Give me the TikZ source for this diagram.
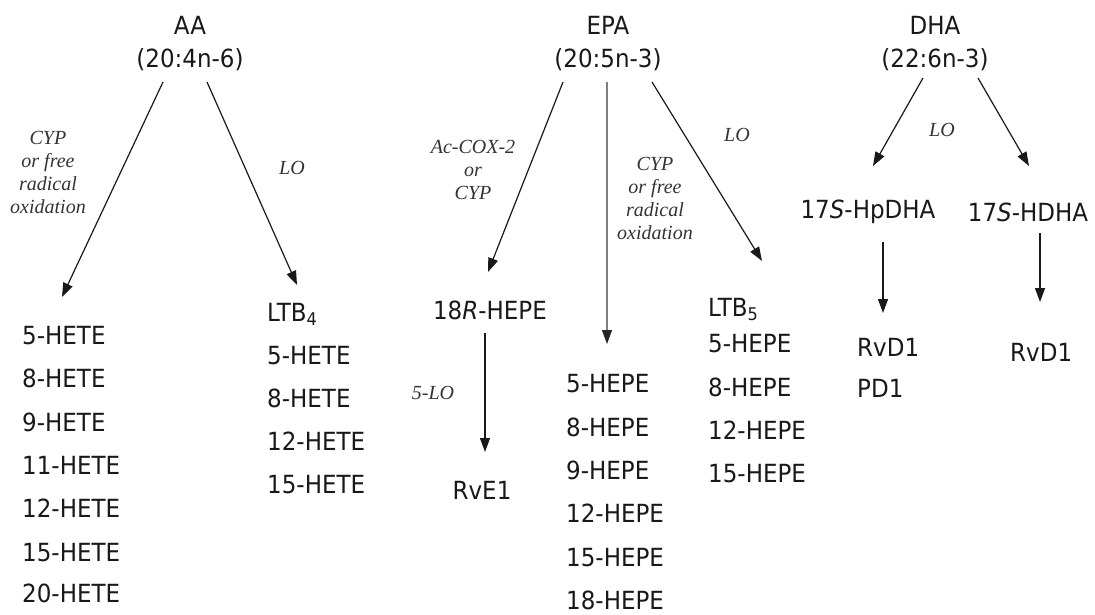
\documentclass[tikz,border=0pt]{standalone}
\usepackage{fontspec}
\setmainfont{DejaVu Sans}[FakeStretch=0.92]
\newfontfamily\lblfont{Liberation Serif}
\usetikzlibrary{arrows.meta}
\begin{document}
\begin{tikzpicture}[x=1pt,y=-1pt,
  txt/.style={font=\fontsize{25}{30}\selectfont, inner sep=0pt, text=black!90},
  item/.style={txt, anchor=base west},
  lab/.style={font=\lblfont\itshape\fontsize{20}{23}\selectfont, align=center, inner sep=0pt, text=black!80},
  arr/.style={-{Triangle[length=14pt,width=10pt]}, line width=1.2pt, draw=black!90},
  garr/.style={-{Triangle[length=14pt,width=10pt,color=black!85]}, line width=1.2pt, draw=black!50}]
\useasboundingbox (0,0) rectangle (1095,615);

% ---------- AA ----------
\node[txt] (aa) at (190,25) {AA};
\node[txt] (aa2) at (190,60) {(20:4n-6)};
\coordinate (aaLs) at (163,82);
\coordinate (aaLe) at (62,297);
\coordinate (aaRs) at (207,82);
\coordinate (aaRe) at (297,285);
\draw[arr] (aaLs) -- (aaLe);
\draw[arr] (aaRs) -- (aaRe);
\node[lab] (laa1) at (48,172) {CYP\\or free\\radical\\oxidation};
\node[lab] (laa2) at (292,168) {LO};

\node[item] (h5)  at (22,344) {5-HETE};
\node[item] (h8)  at (22,387) {8-HETE};
\node[item] (h9)  at (22,431) {9-HETE};
\node[item] (h11) at (22,474) {11-HETE};
\node[item] (h12) at (22,517) {12-HETE};
\node[item] (h15) at (22,561) {15-HETE};
\node[item] (h20) at (22,602) {20-HETE};

\node[item] (ltb4) at (267,321) {LTB\textsubscript{4}};
\node[item] (g5)  at (267,364) {5-HETE};
\node[item] (g8)  at (267,407) {8-HETE};
\node[item] (g12) at (267,450) {12-HETE};
\node[item] (g15) at (267,493) {15-HETE};

% ---------- EPA ----------
\node[txt] (epa) at (608,25) {EPA};
\node[txt] (epa2) at (608,60) {(20:5n-3)};
\coordinate (eLs) at (563,82);
\coordinate (eLe) at (488,272);
\coordinate (eMs) at (607,82);
\coordinate (eMe) at (607,344);
\coordinate (eRs) at (652,82);
\coordinate (eRe) at (762,261);
\draw[arr] (eLs) -- (eLe);
\draw[garr] (eMs) -- (eMe);
\draw[arr] (eRs) -- (eRe);
\node[lab] (le1) at (473,170) {Ac-COX-2\\or\\CYP};
\node[lab] (le2) at (655,198) {CYP\\or free\\radical\\oxidation};
\node[lab] (le3) at (737,135) {LO};

\node[txt] (hepe18r) at (490,310) {18\textit{R}-HEPE};
\coordinate (rS) at (485,333);
\coordinate (rE) at (485,452);
\draw[arr] (rS) -- (rE);
\node[lab] (le4) at (433,393) {5-LO};
\node[txt] (rve1) at (482,490) {RvE1};

\node[item] (p5)  at (566,392) {5-HEPE};
\node[item] (p8)  at (566,436) {8-HEPE};
\node[item] (p9)  at (566,479) {9-HEPE};
\node[item] (p12) at (566,522) {12-HEPE};
\node[item] (p15) at (566,566) {15-HEPE};
\node[item] (p18) at (566,609) {18-HEPE};

\node[item] (ltb5) at (708,316) {LTB\textsubscript{5}};
\node[item] (q5)  at (708,352) {5-HEPE};
\node[item] (q8)  at (708,396) {8-HEPE};
\node[item] (q12) at (708,439) {12-HEPE};
\node[item] (q15) at (708,482) {15-HEPE};

% ---------- DHA ----------
\node[txt] (dha) at (935,25) {DHA};
\node[txt] (dha2) at (935,60) {(22:6n-3)};
\coordinate (dLs) at (923,78);
\coordinate (dLe) at (873,166);
\coordinate (dRs) at (978,78);
\coordinate (dRe) at (1029,166);
\draw[arr] (dLs) -- (dLe);
\draw[arr] (dRs) -- (dRe);
\node[lab] (ld1) at (942,130) {LO};

\node[txt] (hpdha) at (868,212) {17\textit{S}-HpDHA};
\node[txt] (hdha) at (1028,212) {17\textit{S}-HDHA};
\coordinate (d1s) at (883,242);
\coordinate (d1e) at (883,313);
\coordinate (d2s) at (1040,233);
\coordinate (d2e) at (1040,302);
\draw[arr] (d1s) -- (d1e);
\draw[arr] (d2s) -- (d2e);

\node[item] (rvd1a) at (857,356) {RvD1};
\node[item] (pd1)   at (857,397) {PD1};
\node[item] (rvd1b) at (1010,361) {RvD1};
\end{tikzpicture}
\end{document}
